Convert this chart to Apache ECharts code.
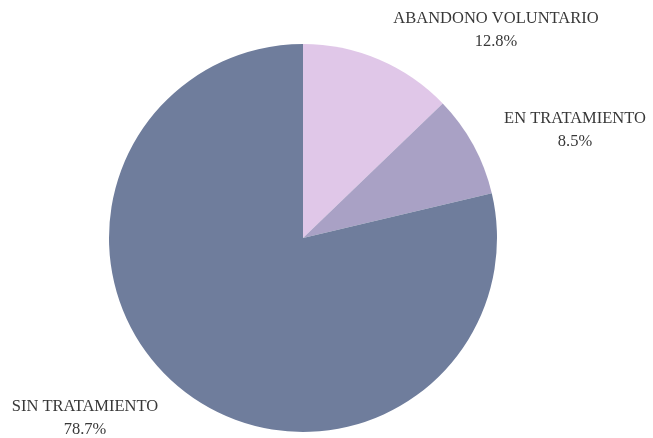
<!DOCTYPE html>
<html>
<head>
<meta charset="utf-8">
<script src="https://cdn.jsdelivr.net/npm/echarts@6/dist/echarts.min.js"></script>
<style>
  html, body { margin: 0; padding: 0; background: #ffffff; }
  #chart { width: 653px; height: 438px; }
</style>
</head>
<body>
<div id="chart"></div>
<script>
// Distribución de pacientes según tratamiento (%)
const categories = ['ABANDONO VOLUNTARIO', 'EN TRATAMIENTO', 'SIN TRATAMIENTO'];
const values = [12.8, 8.5, 78.7];
const colors = ['#e0c7e8', '#a9a1c5', '#6f7d9c'];

// Where each two-line label block is centred
const labelSpots = [[496, 30], [575, 130], [85, 418]];

const chart = echarts.init(document.getElementById('chart'), null, { renderer: 'canvas' });

chart.setOption({
  animation: false,
  backgroundColor: '#ffffff',
  series: [{
    type: 'pie',
    center: [303, 238],
    radius: [0, 194],
    startAngle: 90,
    clockwise: true,
    silent: true,
    avoidLabelOverlap: false,
    data: categories.map((name, i) => ({
      name: name,
      value: values[i],
      itemStyle: { color: colors[i] }
    })),
    itemStyle: { borderWidth: 0 },
    label: {
      show: true,
      position: 'outside',
      overflow: 'none',
      formatter: p => p.name + '\n' + p.value.toFixed(1) + '%',
      fontFamily: '"Liberation Serif", "Times New Roman", serif',
      fontSize: 16.5,
      lineHeight: 23,
      color: '#383838',
      align: 'center'
    },
    labelLine: { show: false },
    labelLayout: function (params) {
      const s = labelSpots[params.dataIndex];
      return { x: s[0], y: s[1], align: 'center', verticalAlign: 'middle' };
    }
  }]
});
</script>
</body>
</html>
